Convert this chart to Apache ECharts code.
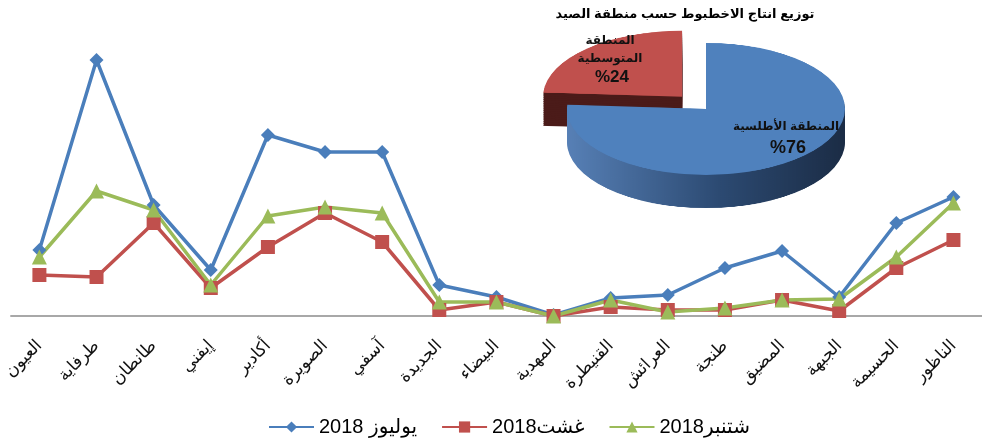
<!DOCTYPE html>
<html>
<head>
<meta charset="utf-8">
<script src="https://cdn.jsdelivr.net/npm/echarts@6/dist/echarts.min.js"></script>
<style>
  body { margin: 0; background: #fff; }
  #pie {
    position: absolute; left: 520px; top: 30px; width: 360px; height: 400px;
    transform: scaleY(0.475); transform-origin: 0 0;
  }
  #main { position: absolute; left: 0; top: 0; width: 982px; height: 441px; }
</style>
</head>
<body>
<div id="pie"></div>
<div id="main"></div>
<script>
// ports, left to right
const categories = ['العيون', 'طرفاية', 'طانطان', 'إيفني', 'أكادير', 'الصويرة', 'آسفي', 'الجديدة', 'البيضاء',
  'المهدية', 'القنيطرة', 'العرائش', 'طنجة', 'المضيق', 'الجبهة', 'الحسيمة', 'الناظور']

// monthly values (no y scale shown in the source, read as relative heights)
const july = [66, 256, 111, 46, 181, 164, 164, 31, 19, 1, 18, 21, 48, 65, 19, 93, 119]
const august = [41, 39, 93, 28, 69, 103, 74, 6, 14, 0, 9, 6, 6, 16, 5, 48, 76]
const september = [59, 125, 106, 31, 100, 109, 103, 14, 14, 0, 16, 4, 8, 16, 17, 59, 113]
const seriesNames = ['2018 يوليوز', '2018غشت', '2018شتنبر']

// inset pie
const zones = ['المنطقة الأطلسية', 'المنطقة المتوسطية']
const shares = [76, 24]
const pieTitle = 'توزيع انتاج الاخطبوط حسب منطقة الصيد'

const arabicFont = 'Liberation Sans, DejaVu Sans'

// --- pie: stacked layers give the 3d side, the div is squashed by css
const pieChart = echarts.init(document.getElementById('pie'))
const topColors = ['#4f81bd', '#c0504d']
const sideColors = [
  { type: 'linear', x: 0, y: 0, x2: 1, y2: 0, colorStops: [{ offset: 0, color: '#5780b6' }, { offset: 0.55, color: '#2c4a72' }, { offset: 1, color: '#1b2c45' }] },
  '#4b1b19'
]
const steps = 18
const depth = 70
const pieSeries = []
for (let i = steps; i >= 0; i--) {
  const colors = i === 0 ? topColors : sideColors
  pieSeries.push({
    type: 'pie',
    z: 2 + steps - i, // selected slices get lifted, so order layers by z
    center: [186, 166 + depth * i / steps],
    radius: 139,
    startAngle: 90,
    selectedMode: 'single',
    selectedOffset: 35,
    silent: true,
    animation: false,
    label: { show: false },
    labelLine: { show: false },
    data: zones.map((name, k) => ({
      name,
      value: shares[k],
      selected: k === 1,
      itemStyle: { color: colors[k], borderWidth: 0 },
      select: { itemStyle: { color: colors[k], borderWidth: 0 } }
    }))
  })
}
pieChart.setOption({ animation: false, series: pieSeries })

// --- main line chart
const chart = echarts.init(document.getElementById('main'))
const lineStyle = (color, symbol, size) => ({
  type: 'line',
  symbol: symbol,
  symbolSize: size,
  lineStyle: { width: 3.5, color: color },
  itemStyle: { color: color },
  silent: true
})

chart.setOption({
  animation: false,
  backgroundColor: 'transparent',
  grid: { left: 10, right: -6, top: 16, bottom: 125 },
  legend: {
    left: 263,
    top: 412,
    itemWidth: 45,
    itemHeight: 14,
    itemGap: 24,
    textStyle: { fontSize: 20, color: '#000', fontFamily: arabicFont },
    data: seriesNames
  },
  xAxis: {
    type: 'category',
    data: categories,
    boundaryGap: true,
    axisLine: { lineStyle: { color: '#8c8c8c', width: 1.5 } },
    axisTick: { length: 6, lineStyle: { color: '#8c8c8c', width: 1.5 } },
    axisLabel: { interval: 0, rotate: 45, margin: 27, fontSize: 17, color: '#111', fontFamily: arabicFont }
  },
  yAxis: { type: 'value', min: 0, max: 300, show: false, splitLine: { show: false } },
  series: [
    { name: seriesNames[0], data: july, ...lineStyle('#4a7ebb', 'diamond', 14) },
    { name: seriesNames[1], data: august, ...lineStyle('#c0504d', 'rect', 14) },
    { name: seriesNames[2], data: september, ...lineStyle('#9bbb59', 'triangle', 15) }
  ],
  graphic: [
    { type: 'text', silent: true, style: { text: pieTitle, x: 685, y: 14, align: 'center', verticalAlign: 'middle', fill: '#000', font: 'bold 13px ' + arabicFont } },
    { type: 'text', silent: true, style: { text: 'المنطقة\nالمتوسطية', x: 610, y: 50, align: 'center', verticalAlign: 'middle', lineHeight: 18, fill: '#111', font: 'bold 12px ' + arabicFont } },
    { type: 'text', silent: true, style: { text: '%' + shares[1], x: 612, y: 77, align: 'center', verticalAlign: 'middle', fill: '#111', font: 'bold 17px ' + arabicFont } },
    { type: 'text', silent: true, style: { text: zones[0], x: 786, y: 127, align: 'center', verticalAlign: 'middle', fill: '#111', font: 'bold 12px ' + arabicFont } },
    { type: 'text', silent: true, style: { text: '%' + shares[0], x: 788, y: 148, align: 'center', verticalAlign: 'middle', fill: '#111', font: 'bold 18px ' + arabicFont } }
  ]
})
</script>
</body>
</html>
